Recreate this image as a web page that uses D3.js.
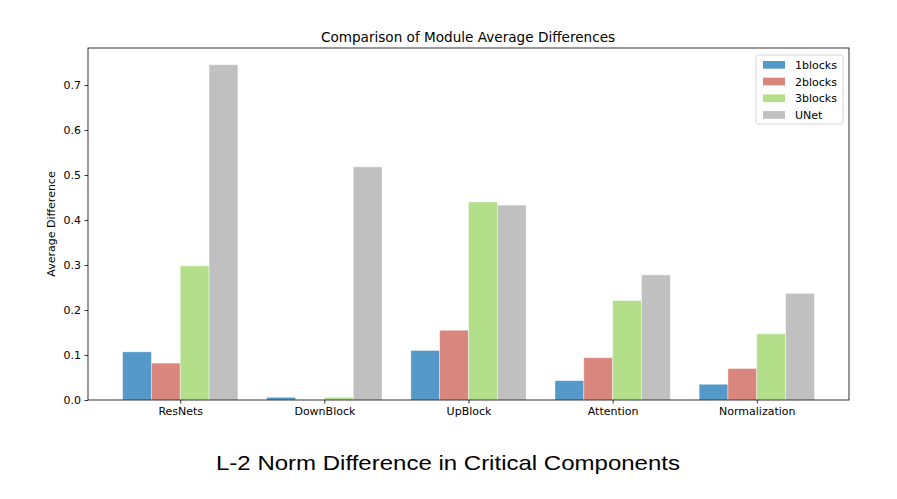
<!DOCTYPE html>
<html><head><meta charset="utf-8">
<script src="https://cdn.jsdelivr.net/npm/d3@7"></script>
<style>body{margin:0;background:#fff}</style>
</head><body>
<svg id="c" width="897" height="499"></svg>
<script>
const categories = ["ResNets","DownBlock","UpBlock","Attention","Normalization"];
const seriesNames = ["1blocks","2blocks","3blocks","UNet"];
const v1blocks = [0.107, 0.006, 0.110, 0.043, 0.035];
const v2blocks = [0.082, 0.000, 0.155, 0.094, 0.070];
const v3blocks = [0.298, 0.006, 0.440, 0.221, 0.147];
const vUNet    = [0.745, 0.518, 0.433, 0.278, 0.237];
const colors = ["#5599c8","#d9877e","#b3df8a","#c0c0c0"];
const yTicks = [0.0,0.1,0.2,0.3,0.4,0.5,0.6,0.7];
const series = [v1blocks, v2blocks, v3blocks, vUNet];

const svg = d3.select("#c");
const L=88, R=849, T=48, B=400;
const font = "DejaVu Sans, sans-serif";
const x = d3.scaleLinear().domain([-0.64, 4.64]).range([L,R]);
const y = d3.scaleLinear().domain([0, 0.7822]).range([B,T]);
const bw = 0.2;

series.forEach((vals,si)=>{
  svg.append("g").selectAll("rect").data(vals).join("rect")
    .attr("x",(d,i)=>x(i-0.4+si*bw))
    .attr("width",x(bw)-x(0))
    .attr("y",d=>y(d))
    .attr("height",d=>y(0)-y(d))
    .attr("fill",colors[si])
    .attr("stroke","#ffffff").attr("stroke-opacity",0.5).attr("stroke-width",0.8);
});

const xa = svg.append("g").attr("transform",`translate(0,${B})`)
  .call(d3.axisBottom(x).tickValues(d3.range(categories.length)).tickFormat(i=>categories[i]).tickSize(3.5).tickPadding(3.5));
const ya = svg.append("g").attr("transform",`translate(${L},0)`)
  .call(d3.axisLeft(y).tickValues(yTicks).tickFormat(d3.format(".1f")).tickSize(3.5).tickPadding(3.5));
[xa,ya].forEach(a=>{
  a.select(".domain").remove();
  a.selectAll("text").attr("font-family",font).attr("font-size","11px").attr("fill","#000");
  a.selectAll("line").attr("stroke","#000").attr("stroke-width",0.8);
});
svg.append("rect").attr("x",L).attr("y",T).attr("width",R-L).attr("height",B-T)
  .attr("fill","none").attr("stroke","#000").attr("stroke-width",0.8);

svg.append("text").attr("x",(L+R)/2-0.5).attr("y",T-6).attr("text-anchor","middle")
  .attr("font-family",font).attr("font-size","13.6px").text("Comparison of Module Average Differences");
svg.append("text").attr("transform",`translate(55,${(T+B)/2}) rotate(-90)`).attr("text-anchor","middle")
  .attr("font-family",font).attr("font-size","11px").text("Average Difference");

const lg = svg.append("g").attr("transform","translate(756,55)");
lg.append("rect").attr("width",87).attr("height",69).attr("rx",2.5)
  .attr("fill","#fff").attr("fill-opacity",0.8).attr("stroke","#cccccc").attr("stroke-width",0.8);
seriesNames.forEach((n,i)=>{
  lg.append("rect").attr("x",7).attr("y",6+i*16.7).attr("width",22).attr("height",7.7).attr("fill",colors[i]);
  lg.append("text").attr("x",39).attr("y",14+i*16.7).attr("font-family",font).attr("font-size","11px").text(n);
});

svg.append("text").attr("x",216).attr("y",470)
  .attr("textLength",464).attr("lengthAdjust","spacingAndGlyphs")
  .attr("font-family","Liberation Sans, Arial, sans-serif").attr("font-size","21px").text("L-2 Norm Difference in Critical Components");
</script>
</body></html>
